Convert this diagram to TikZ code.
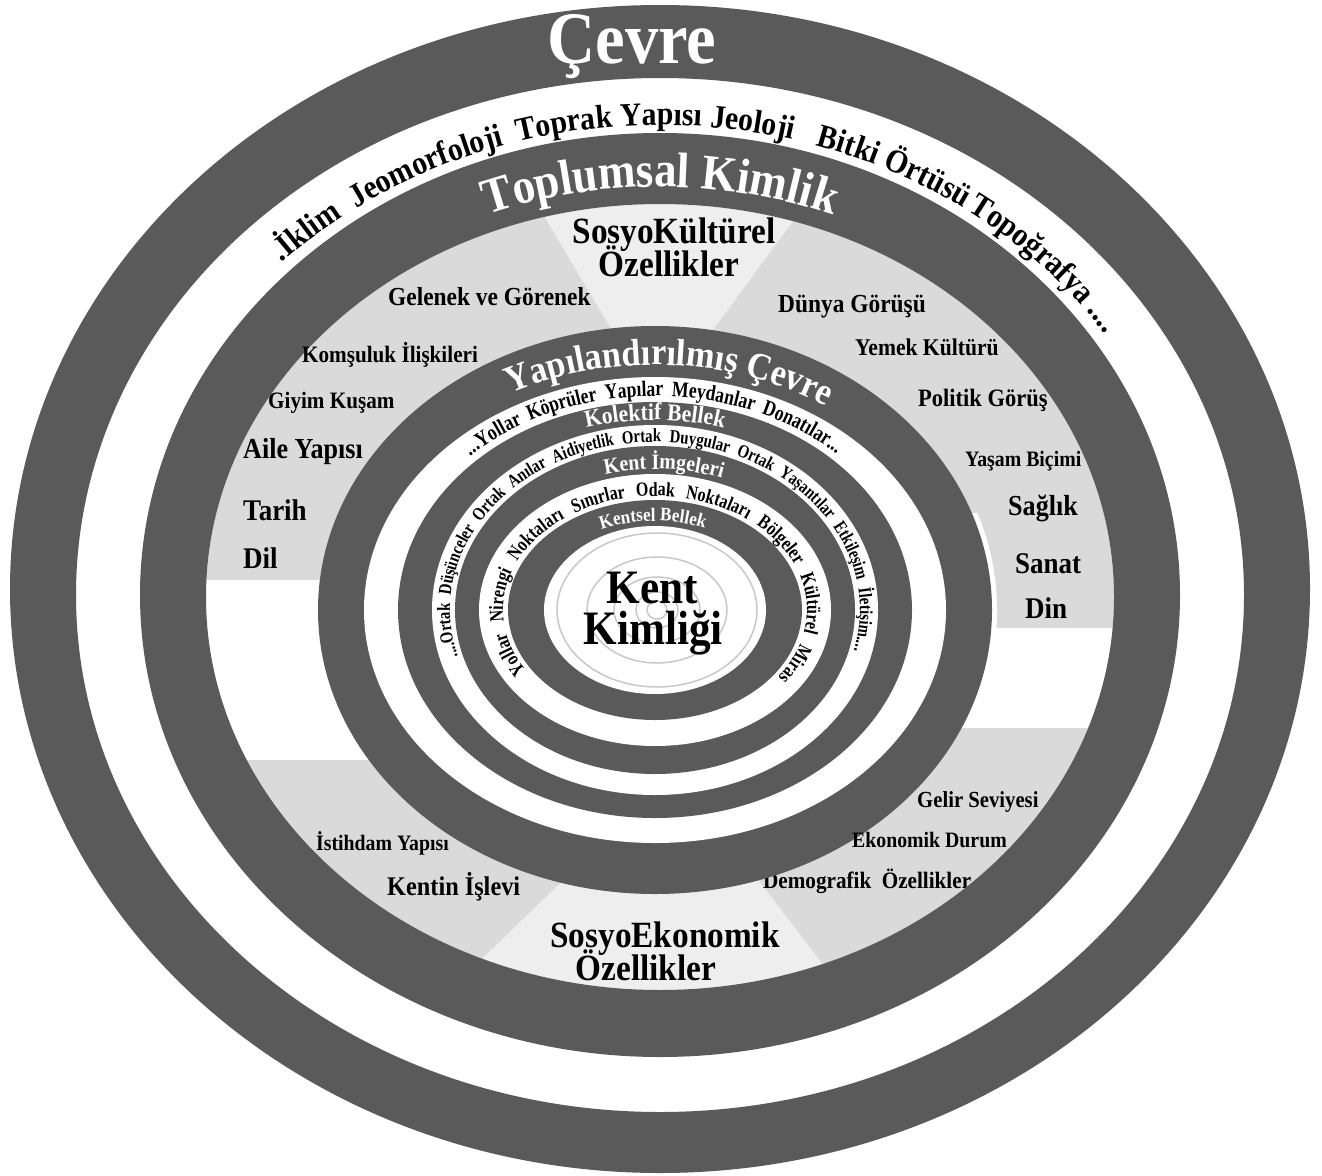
\documentclass[tikz,border=0pt]{standalone}
\usepackage{fontspec}
\setmainfont{Liberation Serif}[FakeStretch=0.9]
\newfontfamily\narrowfont{Liberation Serif}[FakeStretch=0.8]
\usetikzlibrary{decorations.text}
\definecolor{ring}{HTML}{5A5A5A}
\definecolor{sect}{HTML}{DADADA}
\definecolor{wedge}{HTML}{EEEEEE}
\definecolor{deco}{HTML}{C8C8C8}
\newcommand\fsz[1]{\fontsize{#1}{#1}\selectfont}
% cx, cy, rx, ry, start, end, size, colour, text
\newcommand\ringtext[9]{%
  \path[decorate,decoration={text along path,text align=center,
     text={|\bfseries\fsz{#7}\color{#8}|#9}}]
     (#1,#2) ++(#5:#3 and #4) arc[start angle=#5,end angle=#6,x radius=#3,y radius=#4];}
\newcommand\ringfit[9]{%
  \path[decorate,decoration={text along path,text align={fit to path stretching spaces},
     text={|\narrowfont\bfseries\fsz{#7}\color{#8}|#9}}]
     (#1,#2) ++(#5:#3 and #4) arc[start angle=#5,end angle=#6,x radius=#3,y radius=#4];}
\tikzset{lbl/.style={inner sep=0pt}}
\begin{document}
\begin{tikzpicture}[x=1pt,y=1pt]
\useasboundingbox (0,0) rectangle (1322,-1175);
\fill[white] (0,0) rectangle (1322,-1175);
% sector region
\fill[white] (660,-597) ellipse [x radius=454, y radius=393];
\begin{scope}
  \clip (660,-597) ellipse [x radius=454, y radius=393];
  \fill[sect] (150,-100) -- (1200,-100) -- (1200,-628) -- (660,-628) -- (660,-580) -- (150,-580) -- cycle;
  \fill[sect] (150,-760) -- (660,-760) -- (660,-728) -- (1200,-728) -- (1200,-1100) -- (150,-1100) -- cycle;
  \fill[wedge] (657,-406) -- (475,-100) -- (882,-100) -- cycle;
  \fill[wedge] (676,-772) -- (387,-1050) -- (888,-1050) -- cycle;
\end{scope}
\begin{scope}
  \clip (900,-513) rectangle (1010,-628);
  \fill[white] (655,-610) ellipse [x radius=342, y radius=289];
\end{scope}
\node[lbl,anchor=base west,font=\bfseries\fsz{23.5}] (demo) at (763,-888) {Demografik~~Özellikler};
% outer rings
\fill[ring,even odd rule] (660,-589) ellipse [x radius=650, y radius=584] (660,-595) ellipse [x radius=584, y radius=517];
\fill[ring,even odd rule] (660,-595) ellipse [x radius=520, y radius=462] (660,-597) ellipse [x radius=454, y radius=393];
% inner rings
\fill[ring] (655,-610) ellipse [x radius=337, y radius=284];
\fill[white] (655,-610) ellipse [x radius=291, y radius=233];
\fill[ring] (655,-610) ellipse [x radius=257, y radius=208];
\fill[white] (655,-610) ellipse [x radius=223, y radius=185];
\fill[ring] (655,-610) ellipse [x radius=200, y radius=164];
\fill[white] (655,-610) ellipse [x radius=176, y radius=136];
\fill[ring] (655,-610) ellipse [x radius=147, y radius=110];
\fill[white] (655,-610) ellipse [x radius=111, y radius=84];
\foreach \a/\b in {10/9,21/18,43/33,70/53,100/77}
  \draw[deco,line width=1.5] (657,-610) ellipse [x radius=\a, y radius=\b];
% curved texts
\ringtext{660}{-595}{535}{470}{149}{113}{33}{black}{.İklim}
\ringtext{660}{-595}{535}{470}{136}{96}{33}{black}{Jeomorfoloji}
\ringtext{660}{-595}{535}{470}{115.5}{75.5}{33}{black}{Toprak Yapısı}
\ringtext{660}{-595}{535}{470}{100}{60}{33}{black}{Jeoloji}
\ringtext{660}{-595}{535}{470}{84}{44}{33}{black}{Bitki Örtüsü}
\ringtext{660}{-595}{535}{470}{64}{24}{33}{black}{Topoğrafya ....}
\ringtext{660}{-595}{475}{408}{135}{45}{50}{white}{Toplumsal Kimlik}
\ringtext{655}{-610}{308}{245}{132}{42}{38}{white}{Yapılandırılmış Çevre}
\ringfit{655}{-610}{266}{214}{134}{47}{22}{black}{...Yollar Köprüler Yapılar Meydanlar Donatılar...}
\ringtext{655}{-610}{238}{190}{130}{50}{24}{white}{Kolektif Bellek}
\ringfit{655}{-610}{205}{168}{196}{-14}{18.5}{black}{....Ortak Düşünceler Ortak Anılar Aidiyetlik Ortak Duygular Ortak Yaşantılar Etkileşim İletişim....}
\ringtext{655}{-610}{186}{141}{127}{47}{22}{white}{Kent İmgeleri}
\ringfit{655}{-610}{152}{114}{212}{-36}{20}{black}{Yollar Nirengi Noktaları Sınırlar Odak Noktaları Bölgeler Kültürel Miras}
\ringtext{655}{-610}{124}{89}{131}{51}{19}{white}{Kentsel Bellek}
% straight labels
\node[lbl,anchor=base,font=\bfseries\fsz{74},text=white] (cevre) at (632,-63) {Çevre};
\node[lbl,anchor=base west,font=\bfseries\fsz{26}] (gelenek) at (388,-305) {Gelenek ve Görenek};
\node[lbl,anchor=base west,font=\bfseries\fsz{23.5}] (komsu) at (302,-362) {Komşuluk İlişkileri};
\node[lbl,anchor=base west,font=\bfseries\fsz{23.5}] (giyim) at (268,-408) {Giyim Kuşam};
\node[lbl,anchor=base west,font=\bfseries\fsz{29}] (aile) at (243,-458) {Aile Yapısı};
\node[lbl,anchor=base west,font=\bfseries\fsz{30}] (tarih) at (243,-520) {Tarih};
\node[lbl,anchor=base west,font=\bfseries\fsz{30}] (dil) at (243,-568) {Dil};
\node[lbl,anchor=base,font=\bfseries\fsz{37}] (sosyok) at (674,-243) {SosyoKültürel};
\node[lbl,anchor=base,font=\bfseries\fsz{37}] (ozk) at (669,-276) {Özellikler};
\node[lbl,anchor=base west,font=\bfseries\fsz{26}] (dunya) at (778,-312) {Dünya Görüşü};
\node[lbl,anchor=base west,font=\bfseries\fsz{24}] (yemek) at (855,-355) {Yemek Kültürü};
\node[lbl,anchor=base west,font=\bfseries\fsz{25}] (politik) at (918,-406) {Politik Görüş};
\node[lbl,anchor=base west,font=\bfseries\fsz{22}] (yasam) at (965,-466) {Yaşam Biçimi};
\node[lbl,anchor=base west,font=\bfseries\fsz{29}] (saglik) at (1008,-515) {Sağlık};
\node[lbl,anchor=base west,font=\bfseries\fsz{30}] (sanat) at (1015,-573) {Sanat};
\node[lbl,anchor=base west,font=\bfseries\fsz{30}] (din) at (1025,-618) {Din};
\node[lbl,anchor=base west,font=\bfseries\fsz{22}] (istihdam) at (316,-850) {İstihdam Yapısı};
\node[lbl,anchor=base west,font=\bfseries\fsz{27}] (islev) at (387,-895) {Kentin İşlevi};
\node[lbl,anchor=base,font=\bfseries\fsz{37}] (sosyoe) at (665,-947) {SosyoEkonomik};
\node[lbl,anchor=base,font=\bfseries\fsz{37}] (oze) at (646,-980) {Özellikler};
\node[lbl,anchor=base west,font=\bfseries\fsz{23}] (gelir) at (917,-807) {Gelir Seviyesi};
\node[lbl,anchor=base west,font=\bfseries\fsz{22}] (ekon) at (852,-847) {Ekonomik Durum};
\node[lbl,anchor=base,font=\bfseries\fsz{48}] (kent) at (652,-603) {Kent};
\node[lbl,anchor=base,font=\bfseries\fsz{48}] (kimlik) at (653,-644) {Kimliği};
\end{tikzpicture}
\end{document}
